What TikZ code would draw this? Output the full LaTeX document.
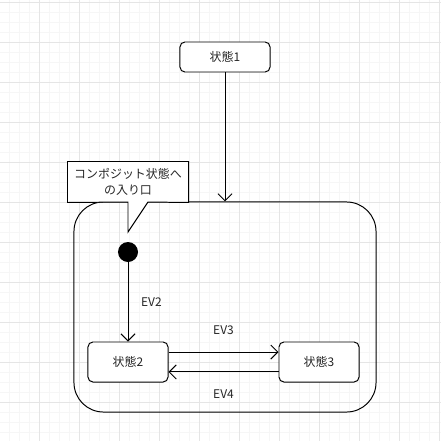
\documentclass[tikz,border=0pt]{standalone}
\usepackage{fontspec}
\setmainfont{Noto Sans CJK JP}
\usetikzlibrary{arrows.meta}

\begin{document}
\begin{tikzpicture}[x=0.025cm,y=-0.025cm,line width=0.7pt,
  >={Straight Barb[length=5pt,width=10pt]},
  every node/.style={font=\fontsize{8.5}{11}\selectfont,text=black!85},
  state node/.style={draw,rounded corners=3.5pt,fill=white,inner sep=0pt,minimum width=2cm,minimum height=1cm},
  label node/.style={inner sep=0pt}]
  \useasboundingbox (0,0) rectangle (441,441);
  % background grid
  \foreach \k in {0,...,44} {
    \draw[gray!7,line width=0.5pt] (9.5+10*\k,0) -- (9.5+10*\k,441);
    \draw[gray!7,line width=0.5pt] (0,2.5+10*\k) -- (441,2.5+10*\k);
  }
  \foreach \k in {0,...,10} {
    \draw[gray!20,line width=0.5pt] (39.5+40*\k,0) -- (39.5+40*\k,441);
    \draw[gray!20,line width=0.5pt] (0,2.5+40*\k) -- (441,2.5+40*\k);
  }
  % states
  \node[state node,minimum width=2.25cm,minimum height=0.75cm] (1) at (225,57) {状態1};
  \node[draw,rounded corners=21pt,inner sep=0pt,minimum width=7.55cm,minimum height=5.25cm] (comp) at (225,307) {};
  \node[state node] (2) at (128,362) {状態2};
  \node[state node] (3) at (319,362) {状態3};
  \node[circle,fill=black,inner sep=0pt,minimum size=0.5cm] (init) at (128,252) {};
  % callout
  \node[inner sep=0pt,minimum width=3cm,minimum height=1cm,align=center] (note) at (128,182) {};
  \draw[fill=white] (note.south west) -- (note.north west) -- (note.north east) -- (note.south east)
    -- (148,202) -- (128,232) -- (128,202) -- cycle;
  \node[align=center,inner sep=0pt] at (note) {コンポジット状態へ\\の入り口};
  % transitions
  \draw[->] (1) -- (1 |- comp.north);
  \draw[->] (init) -- node[label node,right=9pt] {EV2} (2);
  \draw[->] ([yshift=7.1pt]2.east) -- node[label node,above=12pt] {EV3} ([yshift=7.1pt]3.west);
  \draw[->] ([yshift=-7.1pt]3.west) -- node[label node,below=12pt] {EV4} ([yshift=-7.1pt]2.east);
\end{tikzpicture}
\end{document}
